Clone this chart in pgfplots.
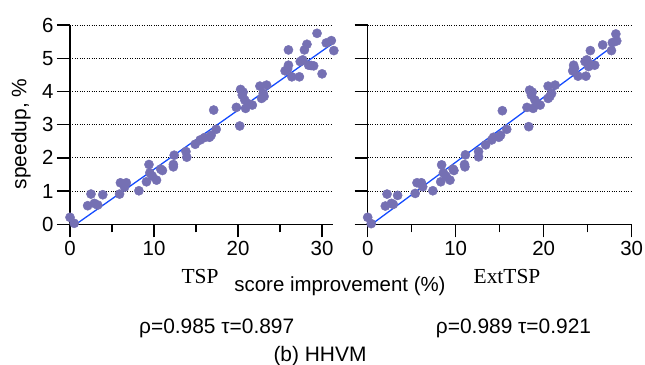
\documentclass[border=0pt]{standalone}
\usepackage{fontspec}
\setmainfont{Liberation Sans}
\newfontfamily\serifTNR{Liberation Serif}
\usepackage{pgfplots}
\pgfplotsset{compat=1.18}
\definecolor{pt}{RGB}{117,112,179}
\definecolor{ln}{RGB}{20,75,255}
\pgfplotsset{
  hh/.style={
    scale only axis, height=199.3bp,
    ymin=0, ymax=6, ytick={0,...,6},
    xtick={0,10,20,30}, minor xtick={5,15,25},
    axis x line*=bottom, axis y line*=left,
    axis line style={-, line width=1.4bp, black},
    tick align=outside, major tick length=13bp, minor tick length=8bp,
    every tick/.style={black, line width=1.4bp},
    ymajorgrids, grid style={black, dotted, line width=0.8bp},
    tick label style={font=\fontsize{20.5}{21}\selectfont},
    /pgf/number format/assume math mode=true,
    clip=false,
  }
}
\begin{document}
\begin{tikzpicture}
\useasboundingbox (-70bp,-140.7bp) rectangle (575bp,224.3bp);
\begin{axis}[hh, at={(0,0)}, anchor=origin, width=263bp, xmin=0, xmax=31.3]
\addplot[only marks, mark=*, mark size=4.6bp, pt, mark options={draw=pt, fill=pt}] coordinates {
(0.0,0.21) (0.5,0.03) (2.1,0.56) (2.5,0.91) (2.9,0.63) (3.3,0.58) (3.9,0.89)
(5.9,0.91) (6.0,1.25) (6.7,1.25) (6.5,1.12) (8.2,1.01) (9.1,1.28) (9.4,1.80)
(9.5,1.55) (9.8,1.45) (10.3,1.33) (10.8,1.66) (11.0,1.62) (12.3,1.73) (12.4,2.08)
(12.3,1.80) (13.8,2.19) (13.9,2.02) (14.9,2.41) (15.5,2.54) (16.0,2.61) (16.6,2.62)
(16.8,2.68) (17.1,3.44) (17.4,2.86) (19.8,3.52) (20.2,2.96) (20.3,4.06) (20.5,3.89)
(20.6,3.98) (20.8,3.74) (20.9,3.49) (21.7,3.59) (21.3,3.62) (22.6,4.16) (22.8,3.79)
(23.0,3.94) (23.4,4.19) (23.1,3.85) (25.6,4.62) (25.9,4.68) (26.0,5.25) (26.0,4.79)
(26.4,4.44) (27.3,4.44) (27.4,4.90) (27.7,4.95) (27.9,5.25) (28.2,5.42) (28.4,4.79)
(28.7,4.78) (29.0,4.77) (29.4,5.75) (30.0,4.53) (30.5,5.46) (31.1,5.53) (31.4,5.23)
};
\addplot[ln, line width=1.3bp] coordinates {(0.7,0.0) (31.3,5.45)};
\end{axis}
\begin{axis}[hh, at={(297.7bp,0)}, anchor=origin, width=264bp, xmin=0, xmax=30, yticklabels={}]
\addplot[only marks, mark=*, mark size=4.6bp, pt, mark options={draw=pt, fill=pt}] coordinates {
(0.0,0.21) (0.4,0.02) (2.0,0.55) (2.2,0.91) (2.7,0.63) (2.9,0.60) (3.4,0.87)
(5.4,0.93) (5.6,1.25) (6.1,1.25) (6.25,1.13) (7.4,1.01) (8.3,1.28) (8.4,1.79)
(8.6,1.55) (8.9,1.45) (9.35,1.33) (9.7,1.66) (9.8,1.62) (11.05,1.73) (11.1,2.09)
(11.0,1.80) (12.6,2.19) (12.6,2.03) (13.4,2.39) (14.1,2.54) (14.3,2.62) (14.9,2.62)
(15.1,2.68) (15.3,3.42) (15.8,2.86) (18.1,3.52) (18.3,2.94) (18.4,4.04) (18.6,3.89)
(18.7,3.98) (19.0,3.74) (18.8,3.49) (19.6,3.59) (19.3,3.62) (20.5,4.16) (20.5,3.79)
(20.9,3.94) (21.3,4.19) (20.7,3.85) (23.3,4.62) (23.4,4.79) (23.5,4.70) (23.9,4.46)
(24.8,4.46) (24.7,4.90) (24.9,4.95) (25.3,5.23) (25.8,4.79) (25.4,4.80) (26.7,5.40)
(27.7,5.23) (27.8,5.47) (28.2,5.73) (28.3,5.52) (25.1,4.75)
};
\addplot[ln, line width=1.3bp] coordinates {(0.45,0.0) (28.2,5.43)};
\end{axis}
\node[rotate=90, font=\fontsize{21}{22}\selectfont] at (-49bp,90.3bp) {speedup, \%};
\node[anchor=base, font=\serifTNR\fontsize{21.5}{22}\selectfont] at (130bp,-58.7bp) {TSP};
\node[anchor=base, font=\fontsize{20.5}{21}\selectfont] at (270bp,-67.2bp) {score improvement (\%)};
\node[anchor=base, font=\serifTNR\fontsize{21.5}{22}\selectfont] at (437bp,-58.7bp) {ExtTSP};
\node[anchor=base, font=\fontsize{21}{22}\selectfont] at (146.7bp,-108.7bp) {ρ=0.985 τ=0.897};
\node[anchor=base, font=\fontsize{21}{22}\selectfont] at (443.5bp,-108.7bp) {ρ=0.989 τ=0.921};
\node[anchor=base, font=\fontsize{21}{22}\selectfont] at (250bp,-136.7bp) {(b) HHVM};
\end{tikzpicture}
\end{document}
